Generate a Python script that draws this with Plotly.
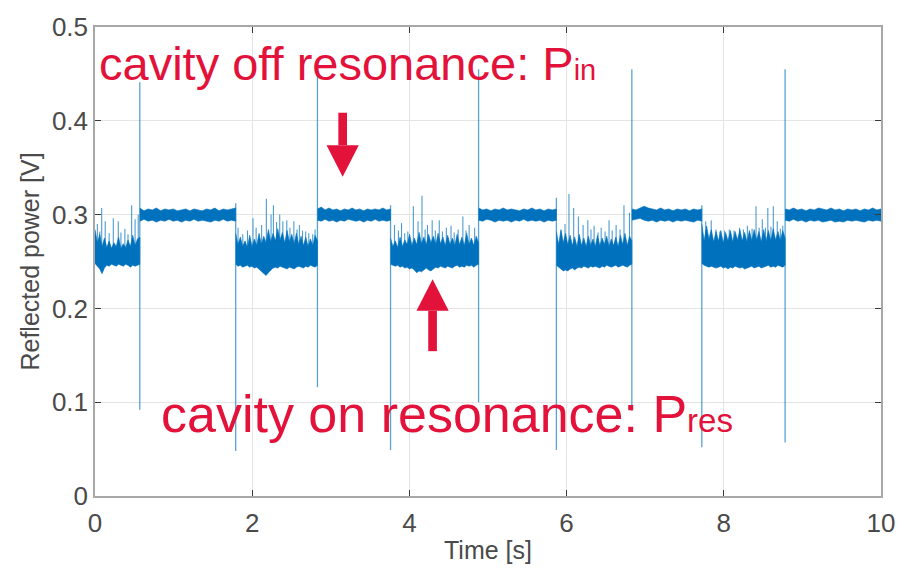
import numpy as np
import plotly.graph_objects as go

# ---------------- data ----------------
# segments of the reflected-power trace (s)
seg_start = [0.00, 0.57, 1.79, 2.83, 3.76, 4.88, 5.87, 6.83, 7.72, 8.78]
seg_end   = [0.57, 1.79, 2.83, 3.76, 4.88, 5.87, 6.83, 7.72, 8.78, 10.0]

# upper / lower envelope of the dense noise band in each segment (V)
seg_upper = [
    [0.284, 0.270, 0.279, 0.266, 0.275, 0.265, 0.272, 0.264, 0.270, 0.266, 0.276, 0.264, 0.269, 0.265, 0.273, 0.266, 0.278, 0.267, 0.274, 0.276],
    [0.307, 0.304, 0.306, 0.305, 0.307, 0.304, 0.306, 0.305, 0.306, 0.304, 0.305, 0.306, 0.304, 0.306, 0.305, 0.304, 0.306, 0.305, 0.307, 0.304, 0.306, 0.305, 0.306, 0.307],
    [0.280, 0.268, 0.276, 0.266, 0.272, 0.265, 0.278, 0.266, 0.274, 0.267, 0.280, 0.268, 0.277, 0.270, 0.284, 0.271, 0.280, 0.272, 0.285, 0.273, 0.281, 0.270, 0.283, 0.271, 0.279, 0.269, 0.280, 0.268, 0.277, 0.267, 0.276, 0.266, 0.274, 0.267, 0.278, 0.272],
    [0.306, 0.308, 0.305, 0.307, 0.305, 0.306, 0.304, 0.306, 0.305, 0.307, 0.305, 0.306, 0.304, 0.306, 0.305, 0.306, 0.305, 0.307, 0.305, 0.306],
    [0.275, 0.266, 0.272, 0.265, 0.276, 0.266, 0.273, 0.268, 0.279, 0.267, 0.275, 0.268, 0.281, 0.269, 0.276, 0.268, 0.279, 0.270, 0.277, 0.268, 0.280, 0.269, 0.276, 0.267, 0.278, 0.268, 0.275, 0.267, 0.279, 0.268, 0.276, 0.267, 0.280, 0.268, 0.275, 0.267, 0.277, 0.270],
    [0.307, 0.305, 0.306, 0.304, 0.306, 0.305, 0.307, 0.305, 0.306, 0.305, 0.304, 0.306, 0.305, 0.307, 0.305, 0.306, 0.304, 0.306, 0.305, 0.306],
    [0.282, 0.268, 0.284, 0.270, 0.280, 0.268, 0.278, 0.267, 0.276, 0.266, 0.279, 0.267, 0.275, 0.266, 0.277, 0.267, 0.274, 0.266, 0.278, 0.267, 0.275, 0.268, 0.277, 0.266, 0.274, 0.267, 0.276, 0.266, 0.278, 0.268, 0.280, 0.267, 0.277, 0.272],
    [0.306, 0.305, 0.307, 0.309, 0.307, 0.306, 0.305, 0.307, 0.305, 0.306, 0.304, 0.306, 0.305, 0.306, 0.304, 0.306, 0.305, 0.306],
    [0.290, 0.272, 0.288, 0.274, 0.284, 0.271, 0.282, 0.272, 0.283, 0.270, 0.281, 0.272, 0.283, 0.271, 0.282, 0.273, 0.284, 0.272, 0.281, 0.271, 0.283, 0.272, 0.284, 0.273, 0.282, 0.271, 0.284, 0.272, 0.283, 0.272, 0.285, 0.273, 0.282, 0.272, 0.283, 0.275],
    [0.306, 0.305, 0.307, 0.305, 0.306, 0.304, 0.306, 0.305, 0.307, 0.306, 0.305, 0.307, 0.305, 0.306, 0.304, 0.306, 0.305, 0.306, 0.304, 0.306, 0.305, 0.307, 0.305, 0.306],
]
seg_lower = [
    [0.248, 0.245, 0.242, 0.237, 0.243, 0.246, 0.245, 0.247, 0.246, 0.245, 0.247, 0.246, 0.245, 0.247, 0.246, 0.244, 0.246, 0.245, 0.246, 0.247],
    [0.293, 0.295, 0.293, 0.294, 0.292, 0.294, 0.293, 0.295, 0.293, 0.294, 0.292, 0.294, 0.293, 0.295, 0.293, 0.294, 0.293, 0.292, 0.294, 0.293, 0.295, 0.293, 0.294, 0.293],
    [0.247, 0.245, 0.246, 0.244, 0.245, 0.246, 0.244, 0.245, 0.243, 0.244, 0.242, 0.240, 0.237, 0.235, 0.238, 0.241, 0.243, 0.244, 0.243, 0.245, 0.244, 0.243, 0.242, 0.244, 0.243, 0.242, 0.244, 0.245, 0.244, 0.243, 0.245, 0.244, 0.246, 0.245, 0.244, 0.246],
    [0.294, 0.293, 0.295, 0.293, 0.294, 0.292, 0.294, 0.293, 0.295, 0.294, 0.293, 0.294, 0.292, 0.294, 0.293, 0.295, 0.293, 0.294, 0.293, 0.294],
    [0.247, 0.246, 0.245, 0.246, 0.244, 0.245, 0.243, 0.244, 0.242, 0.243, 0.241, 0.238, 0.240, 0.239, 0.241, 0.243, 0.241, 0.240, 0.242, 0.244, 0.243, 0.245, 0.244, 0.243, 0.245, 0.244, 0.243, 0.245, 0.246, 0.244, 0.245, 0.244, 0.246, 0.245, 0.246, 0.244, 0.246, 0.247],
    [0.294, 0.293, 0.295, 0.294, 0.292, 0.294, 0.293, 0.294, 0.292, 0.294, 0.293, 0.295, 0.293, 0.294, 0.293, 0.294, 0.292, 0.294, 0.293, 0.294],
    [0.246, 0.244, 0.242, 0.240, 0.241, 0.240, 0.242, 0.243, 0.241, 0.243, 0.244, 0.243, 0.245, 0.244, 0.243, 0.245, 0.244, 0.245, 0.244, 0.243, 0.245, 0.244, 0.246, 0.245, 0.244, 0.245, 0.246, 0.244, 0.245, 0.246, 0.245, 0.244, 0.246, 0.247],
    [0.294, 0.295, 0.296, 0.294, 0.293, 0.294, 0.292, 0.294, 0.293, 0.294, 0.292, 0.294, 0.293, 0.294, 0.293, 0.292, 0.294, 0.293],
    [0.248, 0.246, 0.245, 0.244, 0.245, 0.244, 0.243, 0.244, 0.245, 0.243, 0.244, 0.242, 0.244, 0.243, 0.245, 0.244, 0.243, 0.244, 0.242, 0.243, 0.244, 0.245, 0.243, 0.244, 0.245, 0.243, 0.244, 0.245, 0.246, 0.244, 0.245, 0.244, 0.246, 0.245, 0.244, 0.246],
    [0.294, 0.293, 0.295, 0.293, 0.294, 0.292, 0.294, 0.293, 0.294, 0.292, 0.293, 0.294, 0.292, 0.293, 0.292, 0.294, 0.293, 0.294, 0.293, 0.292, 0.294, 0.293, 0.294, 0.293],
]

# noise spikes rising out of the on-resonance band (time s, peak V)
spike_t = [
    0.03, 0.06, 0.085, 0.13, 0.18, 0.233, 0.296, 0.33, 0.38, 0.42, 0.466, 0.51, 0.55,
    1.82, 1.88, 1.94, 2.01, 2.05, 2.12, 2.18, 2.24, 2.27, 2.31, 2.35, 2.39, 2.44, 2.48,
    2.53, 2.57, 2.60, 2.64, 2.68, 2.72, 2.77, 2.80,
    3.81, 3.86, 3.90, 3.94, 3.98, 4.05, 4.11, 4.16, 4.20, 4.23, 4.29, 4.33, 4.38, 4.42,
    4.47, 4.53, 4.57, 4.62, 4.68, 4.72, 4.76, 4.83,
    5.93, 5.98, 6.03, 6.09, 6.15, 6.21, 6.27, 6.31, 6.35, 6.40, 6.44, 6.49, 6.54, 6.58,
    6.63, 6.68, 6.73, 6.80,
    7.77, 7.84, 7.90, 7.95, 8.01, 8.07, 8.13, 8.20, 8.25, 8.30, 8.36, 8.41, 8.45, 8.49,
    8.53, 8.56, 8.60, 8.63, 8.68, 8.72, 8.75,
]
spike_top = [
    0.290, 0.282, 0.307, 0.293, 0.280, 0.296, 0.293, 0.281, 0.285, 0.279, 0.310, 0.295, 0.300,
    0.286, 0.279, 0.283, 0.296, 0.286, 0.289, 0.317, 0.300, 0.310, 0.292, 0.300, 0.293, 0.294, 0.286,
    0.293, 0.284, 0.289, 0.283, 0.282, 0.280, 0.279, 0.284,
    0.289, 0.283, 0.291, 0.280, 0.282, 0.309, 0.293, 0.320, 0.284, 0.289, 0.294, 0.283, 0.294, 0.282,
    0.286, 0.288, 0.281, 0.284, 0.298, 0.283, 0.289, 0.286,
    0.282, 0.290, 0.322, 0.307, 0.298, 0.289, 0.294, 0.284, 0.288, 0.281, 0.286, 0.282, 0.294, 0.283,
    0.289, 0.284, 0.310, 0.302,
    0.293, 0.294, 0.284, 0.282, 0.283, 0.284, 0.283, 0.286, 0.284, 0.288, 0.285, 0.309, 0.286, 0.295,
    0.286, 0.307, 0.287, 0.309, 0.293, 0.285, 0.288,
]

# switching transients (time s, max V, min V)
jump_t   = [0.57, 1.79, 2.83, 3.76, 4.88, 5.87, 6.83, 7.72, 8.78]
jump_max = [0.441, 0.312, 0.449, 0.310, 0.455, 0.318, 0.455, 0.310, 0.455]
jump_min = [0.092, 0.048, 0.116, 0.049, 0.100, 0.049, 0.091, 0.052, 0.057]

x_ticks = [0, 2, 4, 6, 8, 10]
x_tick_text = ["0", "2", "4", "6", "8", "10"]
y_ticks = [0, 0.1, 0.2, 0.3, 0.4, 0.5]
y_tick_text = ["0", "0.1", "0.2", "0.3", "0.4", "0.5"]

# ---------------- styles ----------------
BLUE = "#0072BD"
RED = "#E3123A"
AX_TXT = "#4a4a4a"
FONT = "Liberation Sans, Arial, Helvetica, sans-serif"

fig = go.Figure()

# transients (drawn first, lighter)
jx, jy = [], []
for t, hi, lo in zip(jump_t, jump_max, jump_min):
    jx += [t, t, None]
    jy += [lo, hi, None]
fig.add_trace(go.Scatter(x=jx, y=jy, mode="lines", line=dict(color="rgba(0,114,189,0.65)", width=1.3),
                         hoverinfo="skip", showlegend=False))

# noise spikes
sx, sy = [], []
for t, top in zip(spike_t, spike_top):
    sx += [t, t, None]
    sy += [0.258, top, None]
fig.add_trace(go.Scatter(x=sx, y=sy, mode="lines", line=dict(color="rgba(0,114,189,0.7)", width=1.1),
                         hoverinfo="skip", showlegend=False))

# dense noise bands
for s0, s1, up, lo in zip(seg_start, seg_end, seg_upper, seg_lower):
    ts = list(np.linspace(s0, s1, len(up)))
    fig.add_trace(go.Scatter(x=ts + ts[::-1], y=up + lo[::-1], mode="lines", fill="toself",
                             fillcolor=BLUE, line=dict(color=BLUE, width=0.6),
                             hoverinfo="skip", showlegend=False))

# ---------------- arrows (annotation graphics) ----------------
def arrow(xc, y_tail, y_base, y_tip):
    hw_shaft, hw_head = 0.055, 0.205
    return [
        dict(type="rect", xref="x", yref="y", x0=xc - hw_shaft, x1=xc + hw_shaft,
             y0=min(y_tail, y_base), y1=max(y_tail, y_base), fillcolor=RED, line=dict(width=0)),
        dict(type="path", xref="x", yref="y",
             path=f"M {xc - hw_head},{y_base} L {xc + hw_head},{y_base} L {xc},{y_tip} Z",
             fillcolor=RED, line=dict(width=0)),
    ]

shapes = arrow(3.151, 0.4086, 0.374, 0.3403) + arrow(4.295, 0.1544, 0.1975, 0.2311)

annotations = [
    dict(x=0.02, y=0.461, xref="x", yref="y", xanchor="left", yanchor="middle", showarrow=False,
         text='cavity off resonance: P<span style="font-size:29px">in</span>',
         font=dict(family=FONT, size=47, color=RED)),
    dict(x=0.82, y=0.087, xref="x", yref="y", xanchor="left", yanchor="middle", showarrow=False,
         text='cavity on resonance: P<span style="font-size:33px">res</span>',
         font=dict(family=FONT, size=52, color=RED)),
]

axis_common = dict(
    showgrid=True, gridcolor="#e4e4e4", gridwidth=1,
    showline=True, linecolor="#a8a8a8", linewidth=1.5, mirror="ticks",
    ticks="inside", ticklen=6, tickcolor="#3a3a3a", tickwidth=1,
    zeroline=False, tickfont=dict(family=FONT, size=26, color=AX_TXT),
)

fig.update_layout(
    width=907, height=572,
    margin=dict(l=95, r=25, t=21, b=75),
    plot_bgcolor="white", paper_bgcolor="white",
    showlegend=False,
    shapes=shapes, annotations=annotations,
    xaxis=dict(range=[0, 10], tickvals=x_ticks, ticktext=x_tick_text,
               title=dict(text="Time [s]", font=dict(family=FONT, size=25, color=AX_TXT), standoff=5),
               ticklabelstandoff=3, **axis_common),
    yaxis=dict(range=[0, 0.5], tickvals=y_ticks, ticktext=y_tick_text,
               title=dict(text="Reflected power [V]", font=dict(family=FONT, size=25, color=AX_TXT), standoff=5),
               ticklabelstandoff=0, **axis_common),
)

fig.write_html("out.html")
